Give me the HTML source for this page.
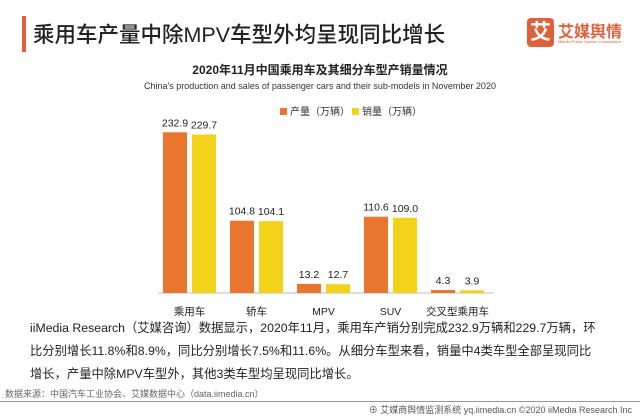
<!DOCTYPE html>
<html><head><meta charset="utf-8">
<style>
body{margin:0;width:640px;height:416px;background:#fff;overflow:hidden;position:relative;font-family:"Liberation Sans","Noto Sans CJK SC",sans-serif;}
.abs{position:absolute;white-space:nowrap;}
</style></head><body>
<div class="abs" style="left:22px;top:16px;width:4px;height:36px;background:#e0603a"></div>
<div class="abs" style="left:33px;top:18px;font-size:21.5px;color:#222;font-weight:500">乘用车产量中除MPV车型外均呈现同比增长</div>
<div class="abs" style="left:527px;top:18px;width:27px;height:29px;background:#e0603a;border-radius:4px;color:#fff;font-size:21px;font-weight:bold;text-align:center;line-height:29px">艾</div>
<div class="abs" style="left:558px;top:18px;font-size:16px;color:#e0603a;font-weight:bold">艾媒舆情</div>
<div class="abs" style="left:558px;top:39px;font-size:4px;color:#e0603a">iiMedia Public Opinion Consultation</div>
<div class="abs" style="left:0;width:640px;text-align:center;top:61px;font-size:12px;font-weight:bold;color:#222">2020年11月中国乘用车及其细分车型产销量情况</div>
<div class="abs" style="left:0;width:640px;text-align:center;top:81px;font-size:9px;color:#333">China's production and sales of passenger cars and their sub-models in November 2020</div>
<div class="abs" style="left:280px;top:103px;font-size:10px;color:#333"><span style="display:inline-block;width:7px;height:7px;background:#e8762f;margin-right:3px"></span>产量（万辆）</div>
<div class="abs" style="left:352px;top:103px;font-size:10px;color:#333"><span style="display:inline-block;width:7px;height:7px;background:#f3d21a;margin-right:3px"></span>销量（万辆）</div>
<svg id="chart" class="abs" style="left:0;top:0" width="640" height="416"></svg>
<div class="abs" style="left:30px;top:317px;font-size:12.3px;line-height:23px;color:#222">iiMedia Research（艾媒咨询）数据显示，2020年11月，乘用车产销分别完成232.9万辆和229.7万辆，环<br>比分别增长11.8%和8.9%，同比分别增长7.5%和11.6%。从细分车型来看，销量中4类车型全部呈现同比<br>增长，产量中除MPV车型外，其他3类车型均呈现同比增长。</div>
<div class="abs" style="left:5px;top:387px;font-size:9px;color:#666">数据来源：中国汽车工业协会、艾媒数据中心（data.iimedia.cn）</div>
<div class="abs" style="left:0;top:401px;width:640px;height:1px;background:#999"></div>
<div class="abs" style="right:8px;top:403px;font-size:9px;color:#555">⊕ 艾媒商舆情监测系统 yq.iimedia.cn ©2020 iiMedia Research Inc</div>
<script>
const categories=["乘用车","轿车","MPV","SUV","交叉型乘用车"];
const production=[232.9,104.8,13.2,110.6,4.3];
const sales=[229.7,104.1,12.7,109.0,3.9];
const NS="http://www.w3.org/2000/svg";
const svg=document.getElementById('chart');
const base=293,scale=0.69,x0=163,step=67,bw=24,gap=5;
function y(v){return base-v*scale;}
function mk(t,a){const e=document.createElementNS(NS,t);for(const k in a)e.setAttribute(k,a[k]);svg.appendChild(e);return e;}
const ax=mk('line',{x1:158,x2:494,y1:base,y2:base,stroke:'#bbb','stroke-width':1});


categories.forEach((c,i)=>{
  const gx=x0+i*step;
  [[production[i],'#e8762f',gx,'production'],[sales[i],'#f3d21a',gx+bw+gap,'sales']].forEach(([v,col,bx,s])=>{
    const r=mk('rect',{x:bx,y:y(v),width:bw,height:base-y(v),fill:col});
    
    
    const t=mk('text',{x:bx+bw/2,y:y(v)-6,'text-anchor':'middle','font-size':10.5,fill:'#222'});
    t.textContent=v.toFixed(1);
    
    
  });
  const l=mk('text',{x:gx+bw+gap/2,y:315,'text-anchor':'middle','font-size':10.5,fill:'#222'});
  l.textContent=c;
  
  
});
</script>
</body></html>
